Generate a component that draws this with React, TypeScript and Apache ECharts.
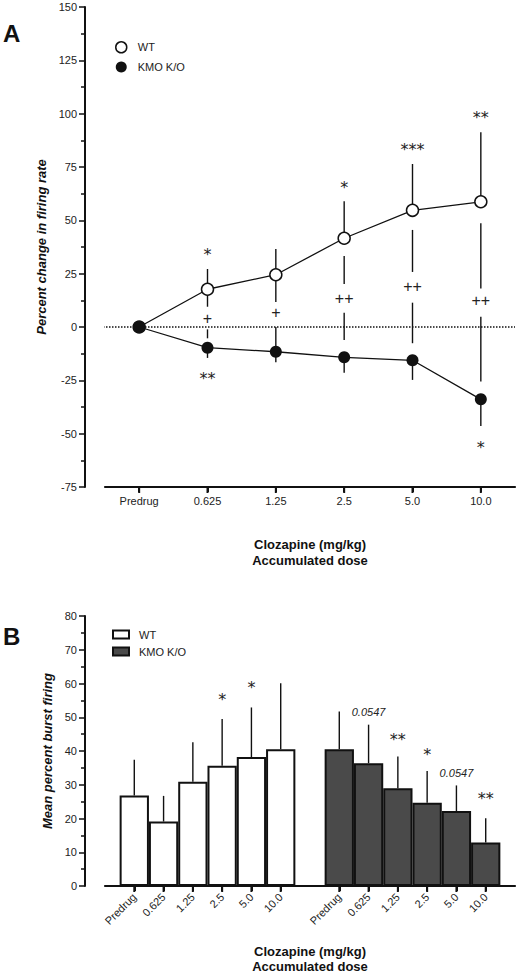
import React, { useEffect, useRef } from 'react';
import * as echarts from 'echarts';

const FONT = 'Liberation Sans, Arial, Helvetica, sans-serif';
const STAR_FONT = 'DejaVu Sans, sans-serif';

const doseLabels = ['Predrug', '0.625', '1.25', '2.5', '5.0', '10.0'];

// ---- Panel A: percent change in firing rate ----
const wtChange = [0, 17.7, 24.5, 41.6, 54.7, 58.7];
const kmoChange = [0, -9.7, -11.6, -14.2, -15.6, -33.9];
const wtErrHigh = [null, 27.2, 36.6, 59.0, 76.4, 91.3];
// visible lower whisker piece below WT points
const wtLowTop = [null, 17.7, 24.5, 33.3, 45.5, 48.6];
const wtLowBottom = [null, 9.5, 11.7, 20.1, 25.8, 18.1];
// visible upper whisker piece above KMO points
const kmoUpTop = [null, -1.1, 0.0, 6.7, 11.4, 4.8];
const kmoUpBottom = [null, -5.3, -11.6, -6.1, -7.6, -25.6];
const kmoErrLow = [null, -14.5, -16.5, -21.4, -24.8, -46.4];
const zeroLine = 0;
const yMinA = -75;
const yMaxA = 150;

const wtStarLabels = ['', '*', '', '*', '***', '**'];
const wtStarY = [null, 35.3, null, 66.6, 84.4, 99.4];
const kmoStarLabels = ['', '**', '', '', '', '*'];
const kmoStarY = [null, -22.8, null, null, null, -55.3];
const plusLabels = ['', '+', '+', '++', '++', '++'];
const plusY = [null, 4.1, 6.6, 13.4, 18.9, 12.2];

// ---- Panel B: mean percent burst firing ----
const wtPos = [0, 1, 2, 3, 4, 5];
const kmoPos = [7, 8, 9, 10, 11, 12];
const xMinB = -1;
const xMaxB = 13;
const yMinB = 0;
const yMaxB = 80;
const wtBurst = [26.8, 19.1, 30.9, 35.6, 38.2, 40.5];
const wtBurstErr = [37.4, 26.7, 42.6, 49.5, 52.9, 60.1];
const kmoBurst = [40.5, 36.4, 29.0, 24.7, 22.2, 12.9];
const kmoBurstErr = [51.7, 47.8, 38.4, 34.1, 29.8, 20.1];
const wtBurstMarks = ['', '', '', '*', '*', ''];
const wtBurstMarkY = [null, null, null, 56.1, 59.8, null];
const kmoBurstMarks = ['', '0.0547', '**', '*', '0.0547', '**'];
const kmoBurstMarkY = [null, 51.7, 44.3, 40.0, 33.6, 26.8];

function buildOption() {
  const segA: number[][] = [];
  doseLabels.forEach((_, i) => {
    if (wtErrHigh[i] != null) segA.push([i, wtChange[i], wtErrHigh[i] as number]);
    if (wtLowTop[i] != null) segA.push([i, wtLowTop[i] as number, wtLowBottom[i] as number]);
    if (kmoUpTop[i] != null) segA.push([i, kmoUpTop[i] as number, kmoUpBottom[i] as number]);
    if (kmoErrLow[i] != null) segA.push([i, kmoChange[i], kmoErrLow[i] as number]);
  });

  const annA: { d: number[]; text: string; kind: string }[] = [];
  doseLabels.forEach((_, i) => {
    if (wtStarY[i] != null) annA.push({ d: [i, wtStarY[i] as number], text: wtStarLabels[i], kind: 'star' });
    if (kmoStarY[i] != null) annA.push({ d: [i, kmoStarY[i] as number], text: kmoStarLabels[i], kind: 'star' });
    if (plusY[i] != null) annA.push({ d: [i, plusY[i] as number], text: plusLabels[i], kind: 'plus' });
  });

  const errB: number[][] = [];
  wtPos.forEach((p, i) => errB.push([p, wtBurst[i], wtBurstErr[i]]));
  kmoPos.forEach((p, i) => errB.push([p, kmoBurst[i], kmoBurstErr[i]]));

  const annB: { d: number[]; text: string; kind: string }[] = [];
  wtPos.forEach((p, i) => {
    if (wtBurstMarkY[i] != null) annB.push({ d: [p, wtBurstMarkY[i] as number], text: wtBurstMarks[i], kind: 'star' });
  });
  kmoPos.forEach((p, i) => {
    if (kmoBurstMarkY[i] != null) {
      const t = kmoBurstMarks[i];
      annB.push({ d: [p, kmoBurstMarkY[i] as number], text: t, kind: t.indexOf('*') >= 0 ? 'star' : 'p' });
    }
  });

  const allPos = [...wtPos, ...kmoPos];
  const posLabel = (v: number) => {
    const a = wtPos.indexOf(v);
    if (a >= 0) return doseLabels[a];
    const b = kmoPos.indexOf(v);
    if (b >= 0) return doseLabels[b];
    return '';
  };

  const segRender = (params: any, api: any) => {
    const p1 = api.coord([api.value(0), api.value(1)]);
    const p2 = api.coord([api.value(0), api.value(2)]);
    return {
      type: 'line',
      shape: { x1: p1[0], y1: p1[1], x2: p2[0], y2: p2[1] },
      style: { stroke: '#111', lineWidth: 1.4 },
    };
  };

  const textRender = (list: { text: string; kind: string }[]) => (params: any, api: any) => {
    const item = list[params.dataIndex];
    const p = api.coord([api.value(0), api.value(1)]);
    let font = `16px ${FONT}`;
    let dy = 0;
    if (item.kind === 'star') {
      font = `16px ${STAR_FONT}`;
      dy = 3;
    } else if (item.kind === 'p') {
      font = `italic 11px ${FONT}`;
    }
    return {
      type: 'text',
      x: p[0],
      y: p[1] + dy,
      style: {
        text: item.text,
        font,
        fill: '#222',
        align: 'center',
        verticalAlign: 'middle',
        textAlign: 'center',
        textVerticalAlign: 'middle',
      },
    };
  };

  // baseline + ticks for panel A (category axis), drawn through the axis scale
  const baseRenderA = (params: any, api: any) => {
    const half = api.size([1, 0])[0] / 2;
    const first = api.coord([0, yMinA]);
    const last = api.coord([doseLabels.length - 1, yMinA]);
    const children: any[] = [
      {
        type: 'line',
        shape: { x1: first[0] - half, y1: first[1], x2: last[0] + half, y2: first[1] },
        style: { stroke: '#111', lineWidth: 2.2 },
      },
    ];
    doseLabels.forEach((_, i) => {
      const p = api.coord([i, yMinA]);
      children.push({
        type: 'line',
        shape: { x1: p[0], y1: p[1], x2: p[0], y2: p[1] + 6 },
        style: { stroke: '#111', lineWidth: 2 },
      });
    });
    return { type: 'group', children };
  };

  // baseline + ticks for panel B (value axis)
  const baseRenderB = (params: any, api: any) => {
    const a = api.coord([xMinB, yMinB]);
    const b = api.coord([xMaxB, yMinB]);
    const children: any[] = [
      {
        type: 'line',
        shape: { x1: a[0], y1: a[1], x2: b[0], y2: a[1] },
        style: { stroke: '#111', lineWidth: 2.2 },
      },
    ];
    allPos.forEach((v) => {
      const p = api.coord([v, yMinB]);
      children.push({
        type: 'line',
        shape: { x1: p[0], y1: p[1], x2: p[0], y2: p[1] + 6 },
        style: { stroke: '#111', lineWidth: 2 },
      });
    });
    return { type: 'group', children };
  };

  const axisLineStyle = { color: '#111', width: 2 };
  const labelStyle = { fontFamily: FONT, fontSize: 11, color: '#222' };
  const nameStyleY = { fontFamily: FONT, fontSize: 13, fontWeight: 'bold', fontStyle: 'italic', color: '#111' };

  return {
    animation: false,
    graphic: [
      { type: 'text', left: 3, top: 21, style: { text: 'A', font: `bold 24px ${FONT}`, fill: '#111' } },
      { type: 'text', left: 3, top: 624, style: { text: 'B', font: `bold 24px ${FONT}`, fill: '#111' } },
      {
        type: 'text',
        x: 310,
        y: 536,
        style: {
          text: 'Clozapine (mg/kg)\nAccumulated dose',
          font: `bold 13px ${FONT}`,
          lineHeight: 16,
          fill: '#111',
          align: 'center',
          verticalAlign: 'top',
        },
      },
    ],
    legend: [
      {
        orient: 'vertical',
        left: 110,
        top: 36,
        itemWidth: 11,
        itemHeight: 11,
        itemGap: 8,
        selectedMode: false,
        textStyle: { fontFamily: FONT, fontSize: 11, color: '#222', padding: [0, 0, 0, 6] },
        data: [
          { name: 'WT', icon: 'circle', itemStyle: { color: '#fff', borderColor: '#111', borderWidth: 1.5 } },
          { name: 'KMO K/O', icon: 'circle', itemStyle: { color: '#111', borderWidth: 0 } },
        ],
      },
      {
        orient: 'vertical',
        left: 107,
        top: 624,
        itemWidth: 16,
        itemHeight: 8,
        itemGap: 6,
        selectedMode: false,
        textStyle: { fontFamily: FONT, fontSize: 11, color: '#222', padding: [0, 0, 0, 5] },
        data: [
          { name: 'WT', icon: 'rect', itemStyle: { color: '#fff', borderColor: '#111', borderWidth: 2 } },
          { name: 'KMO K/O', icon: 'rect', itemStyle: { color: '#4a4a4a', borderColor: '#111', borderWidth: 2 } },
        ],
      },
    ],
    grid: [
      { left: 105, top: 7, width: 410, height: 480 },
      { left: 105, top: 616, width: 410, height: 270.3 },
    ],
    xAxis: [
      {
        type: 'category',
        gridIndex: 0,
        data: doseLabels,
        axisLine: { show: true, onZero: false, lineStyle: { color: '#111', width: 2.2 } },
        axisTick: { show: true, alignWithLabel: true, length: 5, lineStyle: { color: '#111', width: 2 } },
        axisLabel: { ...labelStyle, margin: 8 },
      },
      {
        type: 'value',
        gridIndex: 1,
        min: xMinB,
        max: xMaxB,
        interval: 1,
        axisLine: { show: true, onZero: false, lineStyle: { color: '#111', width: 2.2 } },
        axisTick: { show: true, customValues: allPos, length: 5, lineStyle: { color: '#111', width: 2 } },
        axisLabel: { ...labelStyle, customValues: allPos, rotate: 45, margin: 9, formatter: (v: number) => posLabel(v) },
        splitLine: { show: false },
        name: 'Clozapine (mg/kg)\nAccumulated dose',
        nameLocation: 'middle',
        nameGap: 58,
        nameTextStyle: { fontFamily: FONT, fontSize: 13, fontWeight: 'bold', color: '#111', lineHeight: 15 },
      },
      { type: 'value', gridIndex: 0, position: 'top', min: 0, max: 1, show: false },
    ],
    yAxis: [
      {
        type: 'value',
        gridIndex: 0,
        min: yMinA,
        max: yMaxA,
        interval: 25,
        offset: 20,
        axisLine: { show: true, onZero: false, lineStyle: axisLineStyle },
        axisTick: { show: true, length: 6, lineStyle: { color: '#111', width: 1.5 } },
        minorTick: { show: true, splitNumber: 2, length: 4, lineStyle: { color: '#111', width: 1.5 } },
        splitLine: { show: false },
        axisLabel: { ...labelStyle, margin: 8 },
        name: 'Percent change in firing rate',
        nameLocation: 'middle',
        nameGap: 30,
        nameTextStyle: nameStyleY,
      },
      {
        type: 'value',
        gridIndex: 1,
        min: yMinB,
        max: yMaxB,
        interval: 10,
        offset: 20,
        axisLine: { show: true, onZero: false, lineStyle: axisLineStyle },
        axisTick: { show: true, length: 6, lineStyle: { color: '#111', width: 1.5 } },
        minorTick: { show: true, splitNumber: 2, length: 4, lineStyle: { color: '#111', width: 1.5 } },
        splitLine: { show: false },
        axisLabel: { ...labelStyle, margin: 8 },
        name: 'Mean percent burst firing',
        nameLocation: 'middle',
        nameGap: 30,
        nameTextStyle: nameStyleY,
      },
    ],
    series: [
      {
        type: 'line',
        name: 'zero',
        xAxisIndex: 2,
        yAxisIndex: 0,
        data: [[-20 / 410, zeroLine], [1, zeroLine]],
        symbol: 'none',
        clip: false,
        silent: true,
        lineStyle: { color: '#111', width: 1.5, type: [1.5, 1.5] },
        z: 1,
      },
      {
        type: 'custom',
        name: 'baseA',
        xAxisIndex: 0,
        yAxisIndex: 0,
        data: [[0, yMinA]],
        renderItem: baseRenderA,
        encode: { x: 0, y: 1 },
        clip: false,
        silent: true,
        z: 3,
      },
      {
        type: 'custom',
        name: 'whiskersA',
        xAxisIndex: 0,
        yAxisIndex: 0,
        data: segA,
        renderItem: segRender,
        encode: { x: 0, y: [1, 2] },
        z: 2,
        silent: true,
      },
      {
        type: 'line',
        name: 'WT',
        xAxisIndex: 0,
        yAxisIndex: 0,
        data: wtChange,
        symbol: 'circle',
        symbolSize: 12,
        showAllSymbol: true,
        itemStyle: { color: '#fff', borderColor: '#111', borderWidth: 1.5 },
        lineStyle: { color: '#111', width: 1.3 },
        z: 5,
      },
      {
        type: 'line',
        name: 'KMO K/O',
        xAxisIndex: 0,
        yAxisIndex: 0,
        data: kmoChange,
        symbol: 'circle',
        symbolSize: 12,
        showAllSymbol: true,
        itemStyle: { color: '#111', borderColor: '#111', borderWidth: 0 },
        lineStyle: { color: '#111', width: 1.3 },
        z: 6,
      },
      {
        type: 'custom',
        name: 'annA',
        xAxisIndex: 0,
        yAxisIndex: 0,
        data: annA.map((a) => a.d),
        renderItem: textRender(annA),
        encode: { x: 0, y: 1 },
        z: 7,
        silent: true,
      },
      {
        type: 'bar',
        name: 'WT',
        xAxisIndex: 1,
        yAxisIndex: 1,
        data: wtPos.map((p, i) => [p, wtBurst[i]]),
        barWidth: 29.3,
        barGap: '-100%',
        itemStyle: { color: '#fff', borderColor: '#111', borderWidth: 2 },
        z: 2,
      },
      {
        type: 'bar',
        name: 'KMO K/O',
        xAxisIndex: 1,
        yAxisIndex: 1,
        data: kmoPos.map((p, i) => [p, kmoBurst[i]]),
        barWidth: 29.3,
        barGap: '-100%',
        itemStyle: { color: '#4a4a4a', borderColor: '#111', borderWidth: 2 },
        z: 2,
      },
      {
        type: 'custom',
        name: 'baseB',
        xAxisIndex: 1,
        yAxisIndex: 1,
        data: [[0, yMinB]],
        renderItem: baseRenderB,
        encode: { x: 0, y: 1 },
        clip: false,
        silent: true,
        z: 4,
      },
      {
        type: 'custom',
        name: 'errB',
        xAxisIndex: 1,
        yAxisIndex: 1,
        data: errB,
        renderItem: segRender,
        encode: { x: 0, y: [1, 2] },
        z: 3,
        silent: true,
      },
      {
        type: 'custom',
        name: 'annB',
        xAxisIndex: 1,
        yAxisIndex: 1,
        data: annB.map((a) => a.d),
        renderItem: textRender(annB),
        encode: { x: 0, y: 1 },
        z: 7,
        silent: true,
      },
    ],
  };
}

export default function App() {
  const ref = useRef<HTMLDivElement>(null);
  useEffect(() => {
    if (!ref.current) return;
    const chart = echarts.init(ref.current, null, { renderer: 'svg' });
    chart.setOption(buildOption() as any);
    return () => chart.dispose();
  }, []);
  return (
    <div
      ref={ref}
      style={{ position: 'absolute', left: 0, top: 0, width: 518, height: 975, background: '#fff' }}
    />
  );
}
